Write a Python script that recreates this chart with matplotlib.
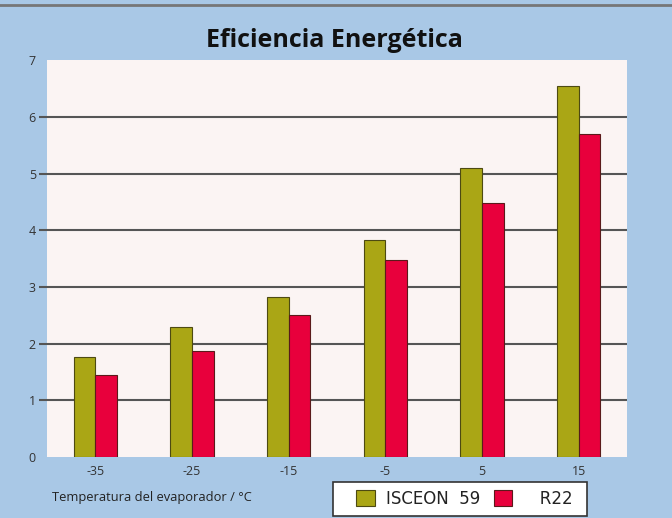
import matplotlib
matplotlib.use("Agg")
import matplotlib.pyplot as plt
from matplotlib.patches import Rectangle
import numpy as np

categories = ["-35", "-25", "-15", "-5", "5", "15"]
isceon59 = [1.77, 2.30, 2.82, 3.82, 5.10, 6.55]
r22 = [1.45, 1.87, 2.50, 3.48, 4.48, 5.70]
yticks = [0, 1, 2, 3, 4, 5, 6, 7]

plt.rcParams['font.family'] = ['Open Sans', 'DejaVu Sans']

fig = plt.figure(figsize=(6.72, 5.18), dpi=100)
fig.patch.set_facecolor('#a9c8e6')
ax = fig.add_axes([0.070, 0.1178, 0.863, 0.766])
ax.set_facecolor('#fbf4f3')

x = np.arange(len(categories))
w = 0.225
ax.bar(x - w/2, isceon59, width=w, color='#aaa615', edgecolor='#4d4a12', linewidth=0.8, label='ISCEON  59', zorder=3)
ax.bar(x + w/2, r22, width=w, color='#e8003c', edgecolor='#5a1a1a', linewidth=0.8, label='   R22', zorder=3)

ax.set_xlim(-0.5, len(categories) - 0.5)
ax.set_ylim(0, 7)
ax.set_yticks(yticks)
ax.set_yticklabels([str(v) for v in yticks], fontsize=9, color='#333333')
ax.set_xticks(x)
ax.set_xticklabels(categories, fontsize=9, color='#333333')
ax.tick_params(axis='y', length=6, width=1.5, color='#555555', pad=2)
ax.tick_params(axis='x', length=0, pad=6)
ax.yaxis.grid(True, color='#555555', linewidth=1.5, zorder=1)
ax.set_axisbelow(True)
for s in ax.spines.values():
    s.set_visible(False)
# no grid line / tick mark at 0 and 7
gl = ax.yaxis.get_gridlines()
gl[0].set_visible(False)
gl[-1].set_visible(False)
mt = ax.yaxis.get_major_ticks()
mt[0].tick1line.set_visible(False)
mt[-1].tick1line.set_visible(False)

fig.text(0.498, 0.922, 'Eficiencia Energética', ha='center', va='center',
         fontsize=18, fontweight='bold', color='#111111')
fig.text(0.078, 0.040, 'Temperatura del evaporador / °C', ha='left', va='center',
         fontsize=9.3, color='#222222')

# legend frame box
fig.add_artist(Rectangle((333/672, 1 - 516/518), 254/672, 34/518, transform=fig.transFigure,
                         facecolor='white', edgecolor='#333333', linewidth=1.2, zorder=2))

leg = fig.legend(loc='center', bbox_to_anchor=(0.691, 0.0367), ncol=2,
                 prop={'family': 'DejaVu Sans', 'size': 12},
                 frameon=False, handlelength=1.1, handleheight=1.1, handletextpad=0.7,
                 columnspacing=0.8, borderpad=0.35, borderaxespad=0)
leg.set_zorder(3)
for t in leg.get_texts():
    t.set_color('#222222')

fig.add_artist(plt.Line2D([0, 1], [0.99, 0.99], color='#777777', linewidth=2, transform=fig.transFigure))

fig.savefig('out.png', dpi=100, facecolor=fig.get_facecolor())
